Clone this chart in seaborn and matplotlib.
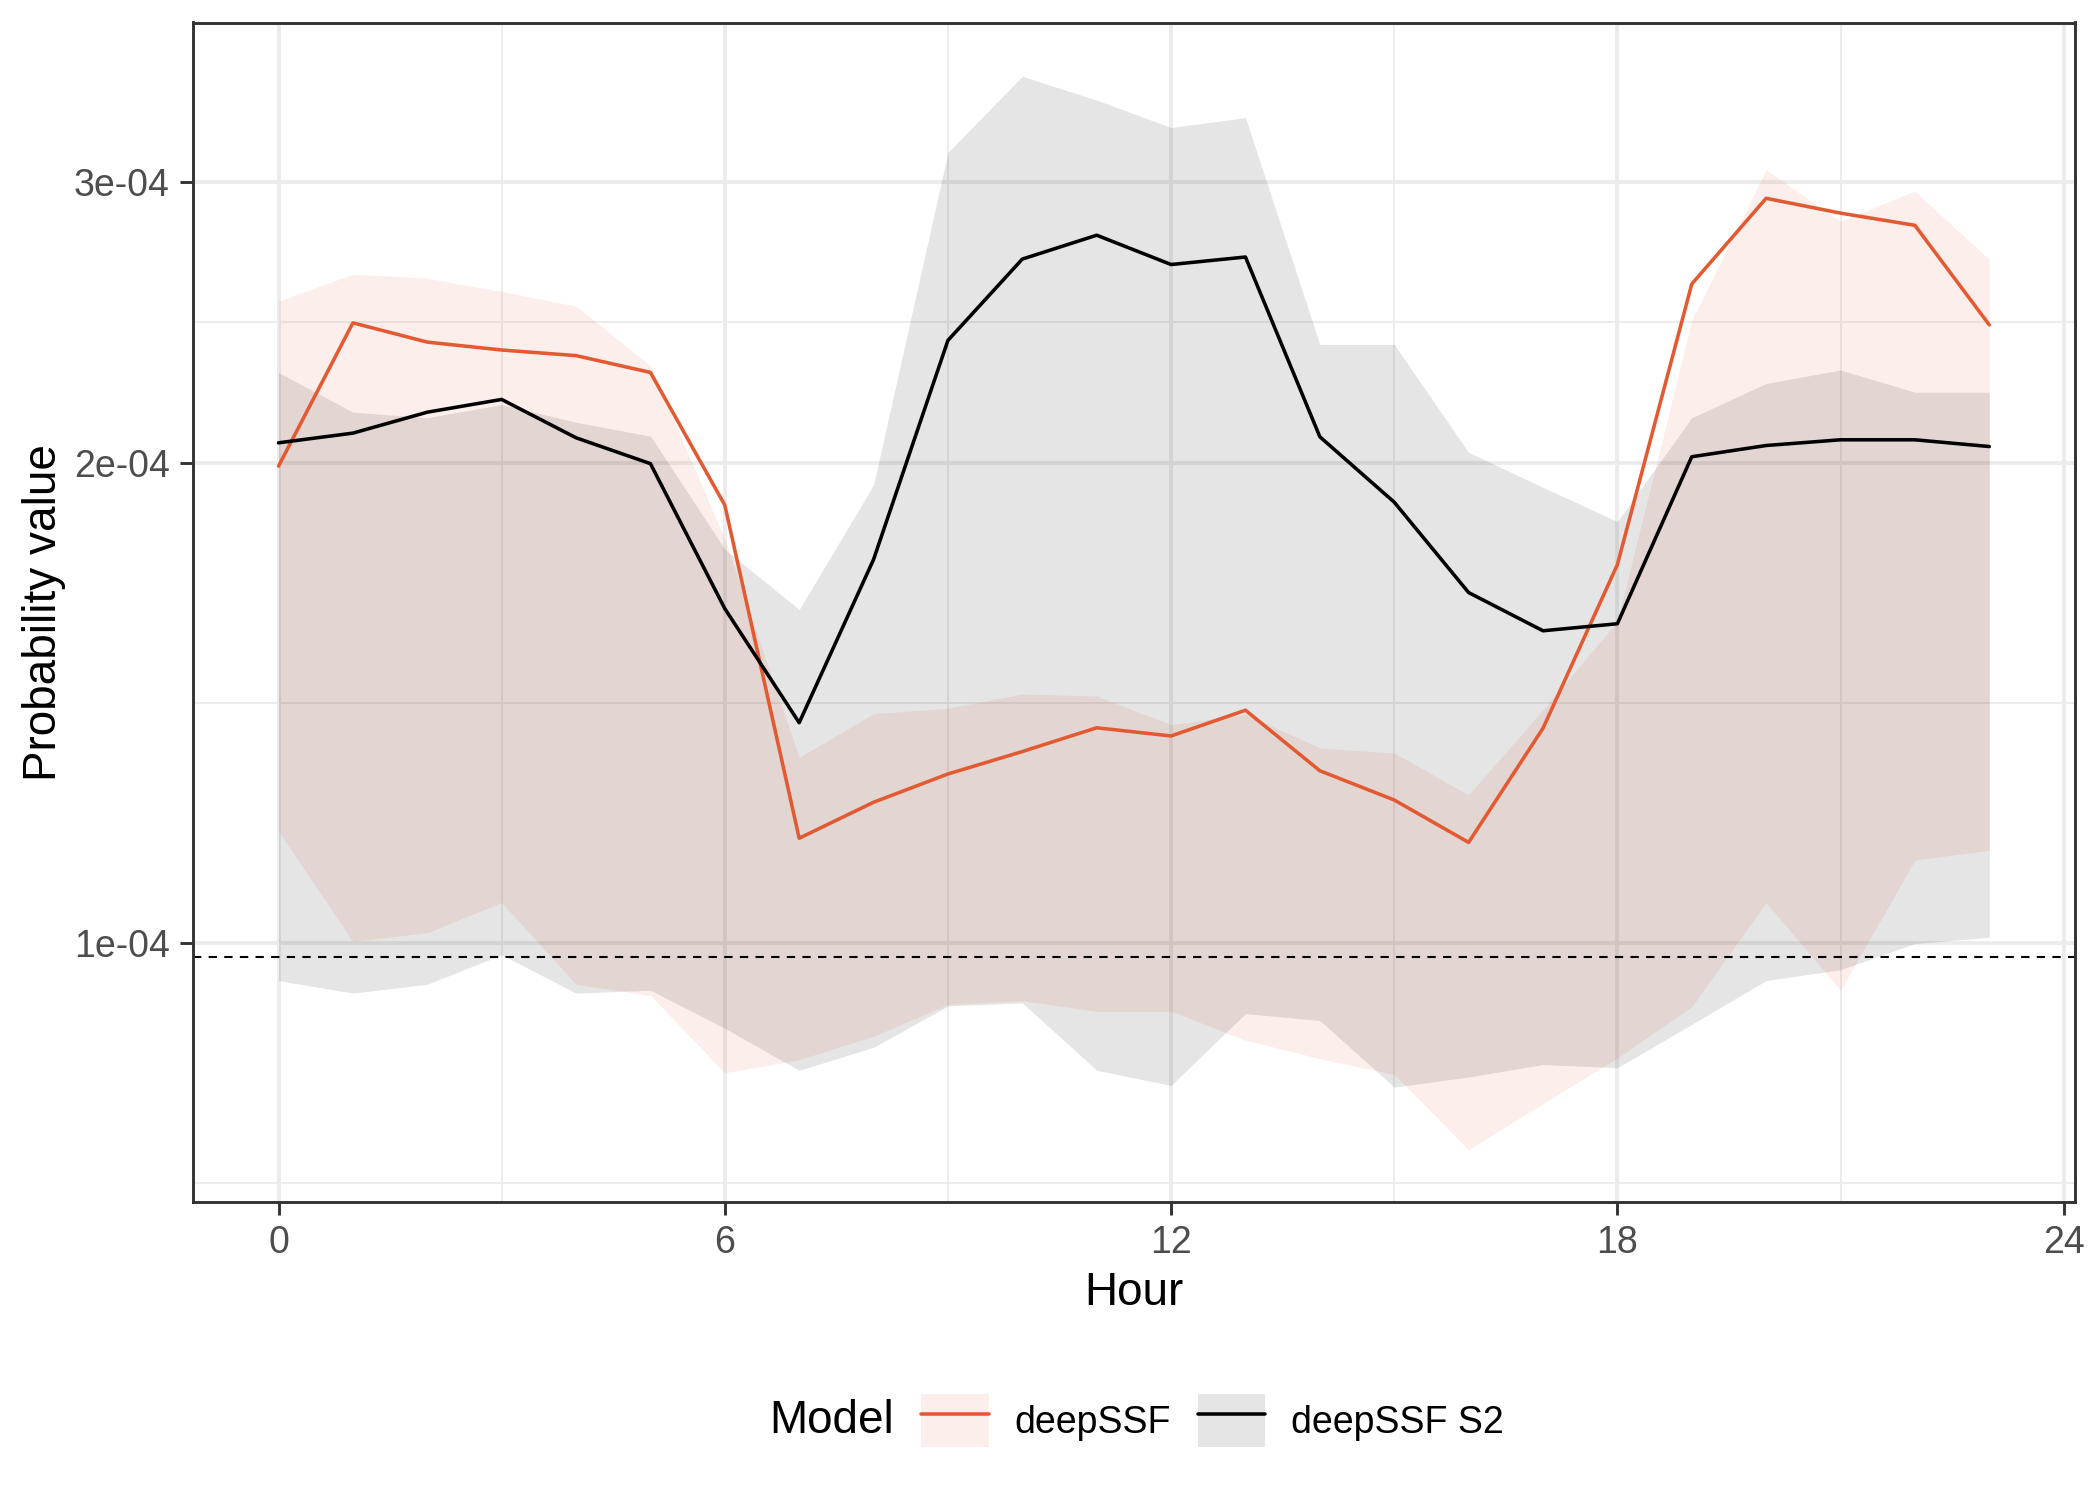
import matplotlib
matplotlib.use('Agg')
import pandas as pd
import matplotlib.pyplot as plt
import seaborn as sns
from matplotlib.ticker import FixedLocator, NullFormatter
from matplotlib.patches import Patch
from matplotlib.lines import Line2D

# data (hourly values)
hours = list(range(24))
models = ['deepSSF', 'deepSSF S2']

deepssf_mean = [1.99e-4, 2.447e-4, 2.38e-4, 2.353e-4, 2.334e-4, 2.278e-4, 1.881e-4, 1.163e-4,
                1.225e-4, 1.276e-4, 1.318e-4, 1.364e-4, 1.348e-4, 1.399e-4, 1.282e-4, 1.229e-4,
                1.156e-4, 1.363e-4, 1.726e-4, 2.588e-4, 2.929e-4, 2.867e-4, 2.817e-4, 2.44e-4]
deepssf_upper = [2.525e-4, 2.625e-4, 2.61e-4, 2.56e-4, 2.507e-4, 2.30e-4, 1.79e-4, 1.307e-4,
                 1.392e-4, 1.403e-4, 1.432e-4, 1.428e-4, 1.370e-4, 1.391e-4, 1.325e-4, 1.315e-4,
                 1.238e-4, 1.40e-4, 1.59e-4, 2.456e-4, 3.052e-4, 2.833e-4, 2.96e-4, 2.681e-4]
deepssf_lower = [1.175e-4, 1.002e-4, 1.015e-4, 1.06e-4, 9.42e-5, 9.27e-5, 8.29e-5, 8.45e-5,
                 8.74e-5, 9.15e-5, 9.20e-5, 9.06e-5, 9.06e-5, 8.69e-5, 8.46e-5, 8.27e-5,
                 7.42e-5, 7.93e-5, 8.47e-5, 9.12e-5, 1.06e-4, 9.34e-5, 1.127e-4, 1.143e-4]

s2_mean = [2.058e-4, 2.087e-4, 2.151e-4, 2.191e-4, 2.073e-4, 1.997e-4, 1.62e-4, 1.374e-4,
           1.739e-4, 2.386e-4, 2.683e-4, 2.777e-4, 2.662e-4, 2.691e-4, 2.076e-4, 1.889e-4,
           1.658e-4, 1.569e-4, 1.585e-4, 2.017e-4, 2.05e-4, 2.067e-4, 2.067e-4, 2.047e-4]
s2_upper = [2.278e-4, 2.151e-4, 2.134e-4, 2.175e-4, 2.12e-4, 2.078e-4, 1.765e-4, 1.618e-4,
            1.937e-4, 3.13e-4, 3.493e-4, 3.375e-4, 3.244e-4, 3.291e-4, 2.372e-4, 2.372e-4,
            2.03e-4, 1.93e-4, 1.837e-4, 2.134e-4, 2.242e-4, 2.286e-4, 2.214e-4, 2.214e-4]
s2_lower = [9.47e-5, 9.30e-5, 9.42e-5, 9.83e-5, 9.30e-5, 9.34e-5, 8.84e-5, 8.32e-5,
            8.60e-5, 9.13e-5, 9.17e-5, 8.32e-5, 8.14e-5, 9.03e-5, 8.94e-5, 8.12e-5,
            8.24e-5, 8.39e-5, 8.35e-5, 8.89e-5, 9.47e-5, 9.62e-5, 9.99e-5, 1.008e-4]

null_prob = 1 / 10201

x_ticks = [0, 6, 12, 18, 24]
y_ticks = [1e-4, 2e-4, 3e-4]
y_tick_labels = ['1e-04', '2e-04', '3e-04']
y_minor = [7.07e-5, 1.414e-4, 2.449e-4]

colors = {'deepSSF': '#E35A32', 'deepSSF S2': '#000000'}

df = pd.concat([
    pd.DataFrame({'Hour': hours, 'value': deepssf_mean, 'lo': deepssf_lower,
                  'hi': deepssf_upper, 'Model': 'deepSSF'}),
    pd.DataFrame({'Hour': hours, 'value': s2_mean, 'lo': s2_lower,
                  'hi': s2_upper, 'Model': 'deepSSF S2'}),
])

sns.set_style('white')
plt.rcParams['font.family'] = ['Liberation Sans', 'DejaVu Sans']
plt.rcParams['text.color'] = 'black'
plt.rcParams['axes.labelcolor'] = 'black'

fig, ax = plt.subplots(figsize=(7, 5), dpi=300)
fig.subplots_adjust(left=0.0919, right=0.988, top=0.985, bottom=0.1987)

# ribbons
for m in models:
    d = df[df['Model'] == m]
    ax.fill_between(d['Hour'], d['lo'], d['hi'], color=colors[m], alpha=0.1, linewidth=0)

ax.axhline(null_prob, color='black', lw=0.5, ls=(0, (4, 3.5)))

sns.lineplot(data=df, x='Hour', y='value', hue='Model', palette=colors,
             linewidth=0.85, legend=False, ax=ax)

ax.set_yscale('log')
ax.set_ylim(6.88e-5, 3.775e-4)
ax.yaxis.set_major_locator(FixedLocator(y_ticks))
ax.set_yticklabels(y_tick_labels)
ax.yaxis.set_minor_locator(FixedLocator(y_minor))
ax.yaxis.set_minor_formatter(NullFormatter())

ax.set_xlim(-1.15, 24.15)
ax.set_xticks(x_ticks)
ax.set_xticks([3, 9, 15, 21], minor=True)

ax.set_axisbelow(True)
ax.grid(which='major', color='#EBEBEB', lw=0.9)
ax.grid(which='minor', color='#EBEBEB', lw=0.45)

for s in ax.spines.values():
    s.set_visible(True)
    s.set_color('#333333')
    s.set_linewidth(0.7)

ax.tick_params(which='major', bottom=True, left=True, direction='out', length=3.1,
               width=0.7, color='#333333', labelcolor='#4D4D4D', labelsize=9, pad=2.5)
ax.tick_params(which='minor', length=0)

ax.set_xlabel('Hour', fontsize=11, labelpad=2.4, color='black')
ax.set_ylabel('Probability value', fontsize=11, labelpad=1.8, color='black')

# legend at the bottom, title on the left
handles = [(Patch(facecolor=colors[m], alpha=0.1, edgecolor='none'),
            Line2D([], [], color=colors[m], lw=0.85)) for m in models]
fig.legend(handles, models, ncol=2, loc='center left', bbox_to_anchor=(921 / 2100, 0.0527),
           frameon=False, fontsize=9, handlelength=1.8, handleheight=1.8,
           handletextpad=0.7, columnspacing=0.7, borderpad=0, borderaxespad=0,
           labelcolor='black')
fig.text(894 / 2100, 0.0527, 'Model', ha='right', va='center', fontsize=11, color='black')

plt.savefig('out.png', dpi=300)
